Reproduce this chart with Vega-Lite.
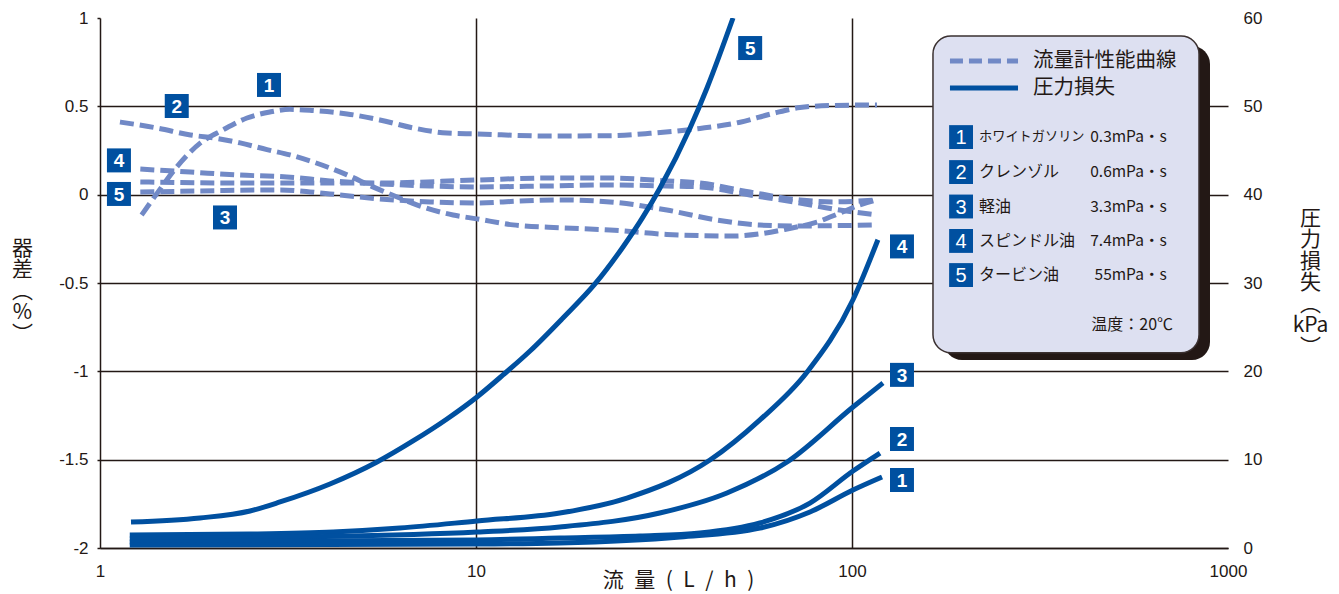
{
  "$schema": "https://vega.github.io/schema/vega-lite/v6.json",
  "width": 1128,
  "height": 530,
  "autosize": {"type": "none"},
  "padding": {"left": 100, "top": 18, "right": 111, "bottom": 46},
  "background": "white",
  "config": {"view": {"stroke": null}, "font": "Liberation Sans"},
  "datasets": {
    "acc": [
      {"fluid": "1", "flow": 1.29, "pct": -0.115},
      {"fluid": "1", "flow": 1.44, "pct": 0.027},
      {"fluid": "1", "flow": 1.60, "pct": 0.157},
      {"fluid": "1", "flow": 1.85, "pct": 0.293},
      {"fluid": "1", "flow": 2.12, "pct": 0.366},
      {"fluid": "1", "flow": 2.46, "pct": 0.434},
      {"fluid": "1", "flow": 2.83, "pct": 0.468},
      {"fluid": "1", "flow": 3.20, "pct": 0.483},
      {"fluid": "1", "flow": 3.69, "pct": 0.476},
      {"fluid": "1", "flow": 4.54, "pct": 0.457},
      {"fluid": "1", "flow": 5.55, "pct": 0.423},
      {"fluid": "1", "flow": 6.80, "pct": 0.378},
      {"fluid": "1", "flow": 8.37, "pct": 0.349},
      {"fluid": "1", "flow": 10.06, "pct": 0.344},
      {"fluid": "1", "flow": 15.45, "pct": 0.332},
      {"fluid": "1", "flow": 22.7, "pct": 0.334},
      {"fluid": "1", "flow": 29.0, "pct": 0.347},
      {"fluid": "1", "flow": 39.4, "pct": 0.375},
      {"fluid": "1", "flow": 50.4, "pct": 0.41},
      {"fluid": "1", "flow": 61.7, "pct": 0.46},
      {"fluid": "1", "flow": 72.7, "pct": 0.493},
      {"fluid": "1", "flow": 89.0, "pct": 0.505},
      {"fluid": "1", "flow": 116.5, "pct": 0.508},
      {"fluid": "2", "flow": 1.13, "pct": 0.411},
      {"fluid": "2", "flow": 1.42, "pct": 0.377},
      {"fluid": "2", "flow": 1.74, "pct": 0.338},
      {"fluid": "2", "flow": 2.05, "pct": 0.318},
      {"fluid": "2", "flow": 2.36, "pct": 0.293},
      {"fluid": "2", "flow": 2.78, "pct": 0.255},
      {"fluid": "2", "flow": 3.2, "pct": 0.225},
      {"fluid": "2", "flow": 3.69, "pct": 0.185},
      {"fluid": "2", "flow": 4.54, "pct": 0.112},
      {"fluid": "2", "flow": 5.32, "pct": 0.044},
      {"fluid": "2", "flow": 6.17, "pct": -0.013},
      {"fluid": "2", "flow": 7.23, "pct": -0.07},
      {"fluid": "2", "flow": 8.69, "pct": -0.115},
      {"fluid": "2", "flow": 10.06, "pct": -0.137},
      {"fluid": "2", "flow": 12.54, "pct": -0.171},
      {"fluid": "2", "flow": 17.0, "pct": -0.188},
      {"fluid": "2", "flow": 22.7, "pct": -0.2},
      {"fluid": "2", "flow": 32.2, "pct": -0.225},
      {"fluid": "2", "flow": 48.3, "pct": -0.234},
      {"fluid": "2", "flow": 56.9, "pct": -0.222},
      {"fluid": "2", "flow": 67.2, "pct": -0.194},
      {"fluid": "2", "flow": 80.7, "pct": -0.155},
      {"fluid": "2", "flow": 92.9, "pct": -0.104},
      {"fluid": "2", "flow": 105, "pct": -0.058},
      {"fluid": "2", "flow": 116.5, "pct": -0.03},
      {"fluid": "3", "flow": 1.28, "pct": 0.015},
      {"fluid": "3", "flow": 1.85, "pct": 0.021},
      {"fluid": "3", "flow": 3.01, "pct": 0.027},
      {"fluid": "3", "flow": 4.09, "pct": 0.004},
      {"fluid": "3", "flow": 5.55, "pct": -0.024},
      {"fluid": "3", "flow": 7.55, "pct": -0.041},
      {"fluid": "3", "flow": 10.06, "pct": -0.047},
      {"fluid": "3", "flow": 13.1, "pct": -0.036},
      {"fluid": "3", "flow": 16.7, "pct": -0.03},
      {"fluid": "3", "flow": 22.7, "pct": -0.041},
      {"fluid": "3", "flow": 32.2, "pct": -0.087},
      {"fluid": "3", "flow": 43.8, "pct": -0.144},
      {"fluid": "3", "flow": 56.9, "pct": -0.172},
      {"fluid": "3", "flow": 72.7, "pct": -0.177},
      {"fluid": "3", "flow": 116.5, "pct": -0.171},
      {"fluid": "4", "flow": 1.28, "pct": 0.145},
      {"fluid": "4", "flow": 1.74, "pct": 0.128},
      {"fluid": "4", "flow": 2.36, "pct": 0.111},
      {"fluid": "4", "flow": 3.14, "pct": 0.1},
      {"fluid": "4", "flow": 4.09, "pct": 0.078},
      {"fluid": "4", "flow": 5.55, "pct": 0.061},
      {"fluid": "4", "flow": 7.55, "pct": 0.049},
      {"fluid": "4", "flow": 10.06, "pct": 0.044},
      {"fluid": "4", "flow": 15.45, "pct": 0.049},
      {"fluid": "4", "flow": 22.7, "pct": 0.055},
      {"fluid": "4", "flow": 32.2, "pct": 0.049},
      {"fluid": "4", "flow": 39.4, "pct": 0.044},
      {"fluid": "4", "flow": 53.5, "pct": -0.002},
      {"fluid": "4", "flow": 72.7, "pct": -0.047},
      {"fluid": "4", "flow": 89.0, "pct": -0.081},
      {"fluid": "4", "flow": 116.5, "pct": -0.115},
      {"fluid": "5", "flow": 1.28, "pct": 0.072},
      {"fluid": "5", "flow": 2.36, "pct": 0.066},
      {"fluid": "5", "flow": 3.14, "pct": 0.066},
      {"fluid": "5", "flow": 5.55, "pct": 0.066},
      {"fluid": "5", "flow": 10.06, "pct": 0.083},
      {"fluid": "5", "flow": 15.45, "pct": 0.094},
      {"fluid": "5", "flow": 22.7, "pct": 0.094},
      {"fluid": "5", "flow": 32.2, "pct": 0.078},
      {"fluid": "5", "flow": 39.4, "pct": 0.066},
      {"fluid": "5", "flow": 53.5, "pct": 0.015},
      {"fluid": "5", "flow": 72.7, "pct": -0.03},
      {"fluid": "5", "flow": 89.0, "pct": -0.041},
      {"fluid": "5", "flow": 116.5, "pct": -0.03}
    ],
    "prs": [
      {"fluid": "5", "flow": 1.209, "kpa": 2.94},
      {"fluid": "5", "flow": 1.845, "kpa": 3.40},
      {"fluid": "5", "flow": 2.506, "kpa": 4.19},
      {"fluid": "5", "flow": 3.011, "kpa": 5.21},
      {"fluid": "5", "flow": 4.089, "kpa": 7.25},
      {"fluid": "5", "flow": 5.454, "kpa": 9.74},
      {"fluid": "5", "flow": 6.8, "kpa": 12.12},
      {"fluid": "5", "flow": 8.372, "kpa": 14.61},
      {"fluid": "5", "flow": 10.06, "kpa": 17.1},
      {"fluid": "5", "flow": 11.8, "kpa": 19.59},
      {"fluid": "5", "flow": 13.92, "kpa": 22.3},
      {"fluid": "5", "flow": 17.03, "kpa": 26.04},
      {"fluid": "5", "flow": 20.72, "kpa": 29.89},
      {"fluid": "5", "flow": 24.6, "kpa": 34.08},
      {"fluid": "5", "flow": 27.81, "kpa": 37.48},
      {"fluid": "5", "flow": 30.86, "kpa": 40.76},
      {"fluid": "5", "flow": 37.09, "kpa": 47.55},
      {"fluid": "5", "flow": 41.15, "kpa": 52.08},
      {"fluid": "5", "flow": 48.26, "kpa": 60},
      {"fluid": "4", "flow": 1.2, "kpa": 1.47},
      {"fluid": "4", "flow": 2.5, "kpa": 1.58},
      {"fluid": "4", "flow": 4.17, "kpa": 1.81},
      {"fluid": "4", "flow": 6.28, "kpa": 2.26},
      {"fluid": "4", "flow": 10.06, "kpa": 3.06},
      {"fluid": "4", "flow": 16.7, "kpa": 3.96},
      {"fluid": "4", "flow": 25.2, "kpa": 5.66},
      {"fluid": "4", "flow": 41.9, "kpa": 9.96},
      {"fluid": "4", "flow": 56.9, "kpa": 14.5},
      {"fluid": "4", "flow": 75.9, "kpa": 19.9},
      {"fluid": "4", "flow": 100.6, "kpa": 28.1},
      {"fluid": "4", "flow": 117.2, "kpa": 34.9},
      {"fluid": "3", "flow": 1.2, "kpa": 1.02},
      {"fluid": "3", "flow": 3.4, "kpa": 1.25},
      {"fluid": "3", "flow": 10.06, "kpa": 1.81},
      {"fluid": "3", "flow": 16.7, "kpa": 2.38},
      {"fluid": "3", "flow": 30.8, "kpa": 3.96},
      {"fluid": "3", "flow": 46.5, "kpa": 6.23},
      {"fluid": "3", "flow": 67.2, "kpa": 9.74},
      {"fluid": "3", "flow": 100.6, "kpa": 15.96},
      {"fluid": "3", "flow": 120.9, "kpa": 18.68},
      {"fluid": "2", "flow": 1.2, "kpa": 0.68},
      {"fluid": "2", "flow": 10.06, "kpa": 0.91},
      {"fluid": "2", "flow": 16.7, "kpa": 1.13},
      {"fluid": "2", "flow": 27.3, "kpa": 1.36},
      {"fluid": "2", "flow": 39.4, "kpa": 1.7},
      {"fluid": "2", "flow": 56.9, "kpa": 2.83},
      {"fluid": "2", "flow": 77.3, "kpa": 5.09},
      {"fluid": "2", "flow": 100.6, "kpa": 8.72},
      {"fluid": "2", "flow": 118.7, "kpa": 10.75},
      {"fluid": "1", "flow": 1.2, "kpa": 0.34},
      {"fluid": "1", "flow": 10.06, "kpa": 0.45},
      {"fluid": "1", "flow": 16.7, "kpa": 0.57},
      {"fluid": "1", "flow": 34.9, "kpa": 1.25},
      {"fluid": "1", "flow": 56.9, "kpa": 2.26},
      {"fluid": "1", "flow": 77.3, "kpa": 4.08},
      {"fluid": "1", "flow": 100.6, "kpa": 6.57},
      {"fluid": "1", "flow": 120.2, "kpa": 8.04}
    ],
    "tags": [
      {"n": "1", "flow": 2.815, "pct": 0.621},
      {"n": "2", "flow": 1.60, "pct": 0.502},
      {"n": "4", "flow": 1.123, "pct": 0.194},
      {"n": "5", "flow": 1.123, "pct": 0.004},
      {"n": "3", "flow": 2.15, "pct": -0.129},
      {"n": "5", "flow": 53.6, "pct": 0.83},
      {"n": "4", "flow": 135.8, "pct": -0.293},
      {"n": "3", "flow": 135.8, "pct": -1.02},
      {"n": "2", "flow": 135.8, "pct": -1.383},
      {"n": "1", "flow": 135.8, "pct": -1.615}
    ],
    "items": [
      {"n": "1", "name": "ホワイトガソリン", "visc": "0.3mPa・s", "pct": 0.326},
      {"n": "2", "name": "クレンゾル", "visc": "0.6mPa・s", "pct": 0.128},
      {"n": "3", "name": "軽油", "visc": "3.3mPa・s", "pct": -0.067},
      {"n": "4", "name": "スピンドル油", "visc": "7.4mPa・s", "pct": -0.262},
      {"n": "5", "name": "タービン油", "visc": "55mPa・s", "pct": -0.455}
    ],
    "keys": [
      {"kind": "dash", "flow": 182.2, "pct": 0.757},
      {"kind": "dash", "flow": 276.4, "pct": 0.757},
      {"kind": "solid", "flow": 182.2, "pct": 0.604},
      {"kind": "solid", "flow": 276.4, "pct": 0.604}
    ],
    "heads": [
      {"text": "流量計性能曲線", "pct": 0.757},
      {"text": "圧力損失", "pct": 0.604}
    ]
  },
  "layer": [
    {
      "layer": [
        {
          "data": {"name": "acc"},
          "mark": {"type": "line", "interpolate": "monotone", "strokeDash": [14, 6], "strokeWidth": 5, "color": "#7189c6"},
          "encoding": {
            "x": {
              "field": "flow", "type": "quantitative",
              "scale": {"type": "log", "domain": [1, 1000]},
              "axis": {
                "values": [1, 10, 100, 1000], "format": "d",
                "domain": true, "domainColor": "#231815", "domainWidth": 1.5,
                "ticks": false, "labelPadding": 15, "labelFontSize": 17, "labelColor": "#231815", "labelFont": "Liberation Sans",
                "labelFlush": false,
                "grid": true, "gridWidth": 1.5,
                "gridColor": {"condition": {"test": "datum.value == 1000 || datum.value == 1", "value": "transparent"}, "value": "#231815"},
                "title": "流\u2002量\u2002(\u2002L\u2002/\u2002h\u2002)", "titleFont": "Noto Sans CJK JP", "titleFontSize": 21, "titleFontWeight": "normal",
                "titleColor": "#231815", "titleX": 578, "titleY": 32, "titleBaseline": "middle", "titleAlign": "center"
              }
            },
            "y": {
              "field": "pct", "type": "quantitative",
              "scale": {"domain": [-2, 1], "nice": false},
              "axis": {
                "orient": "left",
                "values": [-2, -1.5, -1, -0.5, 0, 0.5, 1],
                "labelExpr": "'' + datum.value",
                "domain": true, "domainColor": "#231815", "domainWidth": 1.5,
                "ticks": true, "tickColor": "#231815", "tickSize": 3, "tickWidth": 1.5,
                "labelPadding": 9, "labelFontSize": 17, "labelColor": "#231815", "labelFont": "Liberation Sans",
                "grid": true, "gridWidth": 1.5,
                "gridColor": {"condition": {"test": "datum.value == 1", "value": "transparent"}, "value": "#231815"},
                "title": ["器", "差", "︵", "%", "︶"], "titleAngle": 0, "titleFont": "Noto Sans CJK JP", "titleFontSize": 21,
                "titleFontWeight": "normal", "titleColor": "#231815", "titleX": -78, "titleY": 219,
                "titleAlign": "center", "titleBaseline": "top", "titleLineHeight": 21.5
              }
            },
            "detail": {"field": "fluid"}
          }
        },
        {
          "data": {"name": "tags"},
          "mark": {"type": "square", "size": 576, "filled": true, "opacity": 1, "color": "#0050a0"},
          "encoding": {
            "x": {"field": "flow", "type": "quantitative", "scale": {"type": "log", "domain": [1, 1000]}},
            "y": {"field": "pct", "type": "quantitative", "scale": {"domain": [-2, 1], "nice": false}}
          }
        },
        {
          "data": {"name": "tags"},
          "mark": {"type": "text", "color": "white", "fontSize": 19, "fontWeight": "bold", "font": "Liberation Sans", "baseline": "middle", "align": "center", "dy": 1},
          "encoding": {
            "x": {"field": "flow", "type": "quantitative", "scale": {"type": "log", "domain": [1, 1000]}},
            "y": {"field": "pct", "type": "quantitative", "scale": {"domain": [-2, 1], "nice": false}},
            "text": {"field": "n"}
          }
        },
        {
          "data": {"values": [{}]},
          "mark": {"type": "rect", "color": "#231815", "cornerRadius": 18},
          "encoding": {
            "x": {"datum": 175.7, "type": "quantitative", "scale": {"type": "log", "domain": [1, 1000]}},
            "x2": {"datum": 895.6},
            "y": {"datum": 0.8415, "type": "quantitative", "scale": {"domain": [-2, 1], "nice": false}},
            "y2": {"datum": -0.9355}
          }
        },
        {
          "data": {"values": [{}]},
          "mark": {"type": "rect", "fill": "#dde0f1", "stroke": "#3a3030", "strokeWidth": 1.5, "cornerRadius": 18},
          "encoding": {
            "x": {"datum": 164.2, "type": "quantitative", "scale": {"type": "log", "domain": [1, 1000]}},
            "x2": {"datum": 837.3},
            "y": {"datum": 0.898, "type": "quantitative", "scale": {"domain": [-2, 1], "nice": false}},
            "y2": {"datum": -0.895}
          }
        },
        {
          "data": {"name": "keys"},
          "transform": [{"filter": "datum.kind == 'dash'"}],
          "mark": {"type": "line", "strokeDash": [13, 6], "strokeWidth": 5, "color": "#7189c6"},
          "encoding": {
            "x": {"field": "flow", "type": "quantitative", "scale": {"type": "log", "domain": [1, 1000]}},
            "y": {"field": "pct", "type": "quantitative", "scale": {"domain": [-2, 1], "nice": false}}
          }
        },
        {
          "data": {"name": "keys"},
          "transform": [{"filter": "datum.kind == 'solid'"}],
          "mark": {"type": "line", "strokeWidth": 5, "color": "#0050a0"},
          "encoding": {
            "x": {"field": "flow", "type": "quantitative", "scale": {"type": "log", "domain": [1, 1000]}},
            "y": {"field": "pct", "type": "quantitative", "scale": {"domain": [-2, 1], "nice": false}}
          }
        },
        {
          "data": {"name": "heads"},
          "mark": {"type": "text", "font": "Noto Sans CJK JP", "fontSize": 20.5, "color": "#231815", "align": "left", "baseline": "middle"},
          "encoding": {
            "x": {"datum": 303.0, "type": "quantitative", "scale": {"type": "log", "domain": [1, 1000]}},
            "y": {"field": "pct", "type": "quantitative", "scale": {"domain": [-2, 1], "nice": false}},
            "text": {"field": "text"}
          }
        },
        {
          "data": {"name": "items"},
          "mark": {"type": "square", "size": 570, "filled": true, "opacity": 1, "color": "#0050a0"},
          "encoding": {
            "x": {"datum": 195.0, "type": "quantitative", "scale": {"type": "log", "domain": [1, 1000]}},
            "y": {"field": "pct", "type": "quantitative", "scale": {"domain": [-2, 1], "nice": false}}
          }
        },
        {
          "data": {"name": "items"},
          "mark": {"type": "text", "color": "white", "fontSize": 20, "font": "Liberation Sans", "align": "center", "baseline": "middle", "dy": 1},
          "encoding": {
            "x": {"datum": 195.0, "type": "quantitative", "scale": {"type": "log", "domain": [1, 1000]}},
            "y": {"field": "pct", "type": "quantitative", "scale": {"domain": [-2, 1], "nice": false}},
            "text": {"field": "n"}
          }
        },
        {
          "data": {"name": "items"},
          "mark": {"type": "text", "color": "#231815", "font": "Noto Sans CJK JP", "align": "left", "baseline": "middle"},
          "encoding": {
            "x": {"datum": 217.7, "type": "quantitative", "scale": {"type": "log", "domain": [1, 1000]}},
            "y": {"field": "pct", "type": "quantitative", "scale": {"domain": [-2, 1], "nice": false}},
            "text": {"field": "name"},
            "size": {"condition": {"test": "datum.n == '1'", "value": 13.2}, "value": 16}
          }
        },
        {
          "data": {"name": "items"},
          "mark": {"type": "text", "color": "#231815", "font": "Noto Sans CJK JP", "fontSize": 15.5, "align": "right", "baseline": "middle"},
          "encoding": {
            "x": {"datum": 686.9, "type": "quantitative", "scale": {"type": "log", "domain": [1, 1000]}},
            "y": {"field": "pct", "type": "quantitative", "scale": {"domain": [-2, 1], "nice": false}},
            "text": {"field": "visc"}
          }
        },
        {
          "data": {"values": [{"note": "温度：20℃"}]},
          "mark": {"type": "text", "color": "#231815", "font": "Noto Sans CJK JP", "fontSize": 16, "align": "right", "baseline": "middle"},
          "encoding": {
            "x": {"datum": 714.2, "type": "quantitative", "scale": {"type": "log", "domain": [1, 1000]}},
            "y": {"datum": -0.738, "type": "quantitative", "scale": {"domain": [-2, 1], "nice": false}},
            "text": {"field": "note"}
          }
        }
      ]
    },
    {
      "data": {"name": "prs"},
      "mark": {"type": "line", "interpolate": "monotone", "strokeWidth": 5, "color": "#0050a0", "clip": true},
      "encoding": {
        "x": {"field": "flow", "type": "quantitative", "scale": {"type": "log", "domain": [1, 1000]}},
        "y": {
          "field": "kpa", "type": "quantitative",
          "scale": {"domain": [0, 60], "nice": false},
          "axis": {
            "orient": "right",
            "values": [0, 10, 20, 30, 40, 50, 60],
            "domain": false, "ticks": false, "grid": false,
            "labelPadding": 15, "labelFontSize": 17, "labelColor": "#231815", "labelFont": "Liberation Sans",
            "title": ["圧", "力", "損", "失", "︵", "kPa", "︶"], "titleAngle": 0, "titleFont": "Noto Sans CJK JP", "titleFontSize": 21,
            "titleFontWeight": "normal", "titleColor": "#231815", "titleX": 82, "titleY": 189,
            "titleAlign": "center", "titleBaseline": "top", "titleLineHeight": 21.5
          }
        },
        "detail": {"field": "fluid"}
      }
    }
  ],
  "resolve": {"scale": {"y": "independent"}}
}
